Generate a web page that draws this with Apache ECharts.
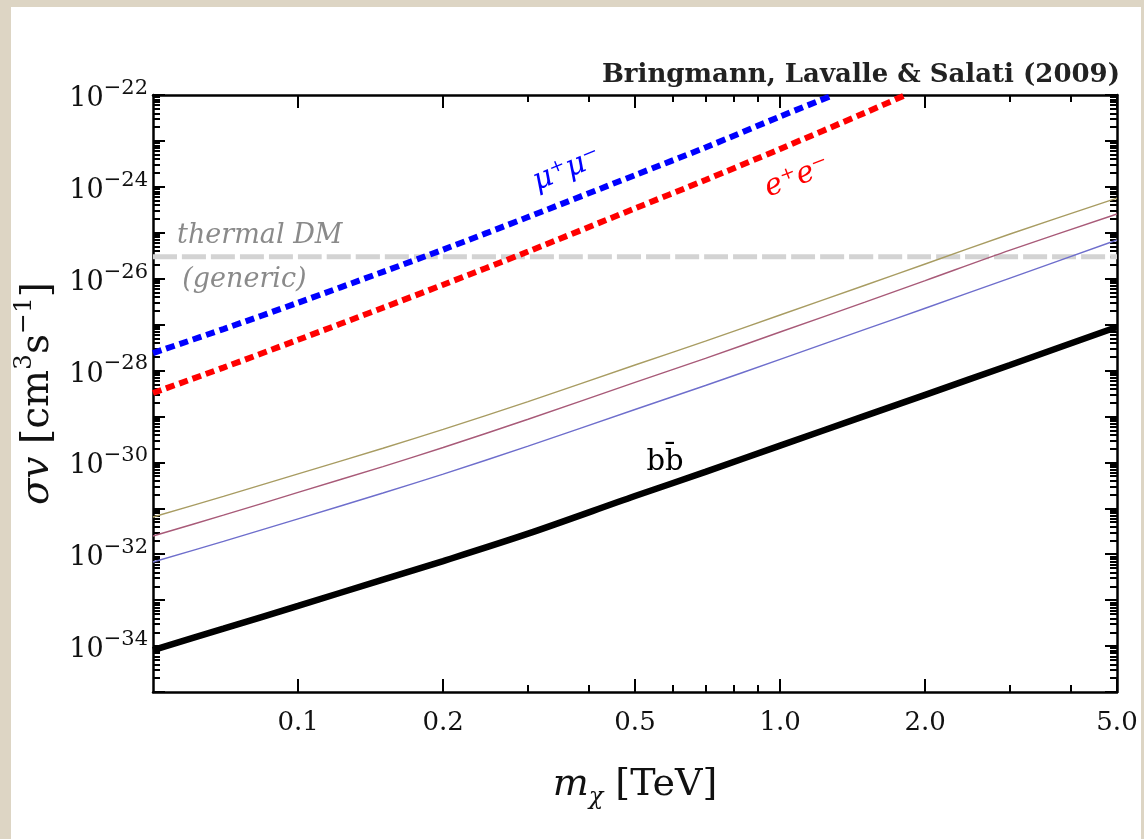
<!DOCTYPE html>
<html><head><meta charset="utf-8">
<script src="https://cdn.jsdelivr.net/npm/echarts@6/dist/echarts.min.js"></script>
<style>
html,body{margin:0;padding:0;width:1144px;height:839px;overflow:hidden;background:#ddd5c4;}
#paper{position:absolute;left:11px;top:7px;width:1130px;height:832px;background:#fff;}
#chart{position:absolute;left:0;top:0;width:1144px;height:839px;}
</style></head><body>
<div id="paper"></div><div id="chart"></div>
<script>
// ---- data ----
const massMuMu = [0.05, 0.07, 0.1, 0.15, 0.2, 0.3, 0.5, 0.7, 1.0, 1.29];
const sigmaMuMu = [2.4e-28, 8.0e-28, 3.0e-27, 1.41e-26, 4.3e-26, 2.2e-25, 1.8e-24, 7.2e-24, 3.4e-23, 1.0e-22];
const massEE = [0.05, 0.07, 0.1, 0.15, 0.2, 0.3, 0.5, 0.7, 1.0, 1.5, 1.82];
const sigmaEE = [3.24e-29, 1.16e-28, 4.67e-28, 2.33e-27, 7.4e-27, 3.9e-26, 3.4e-25, 1.41e-24, 6.7e-24, 4.1e-23, 1.0e-22];
const massGrid = [0.05, 0.07, 0.1, 0.15, 0.2, 0.3, 0.5, 0.7, 1.0, 1.5, 2.0, 3.0, 5.0];
const sigmaOlive = [6.46e-32, 1.82e-31, 5.61e-31, 2.03e-30, 5.22e-30, 2.11e-29, 1.32e-28, 4.37e-28, 1.62e-27, 7.2e-27, 2.09e-26, 9.4e-26, 5.7e-25];
const sigmaMaroon = [2.49e-32, 7.1e-32, 2.22e-31, 8.1e-31, 2.11e-30, 8.7e-30, 5.5e-29, 1.84e-28, 6.9e-28, 3.1e-27, 9.1e-27, 4.2e-26, 2.56e-25];
const sigmaBlueThin = [6.76e-33, 1.91e-32, 5.9e-32, 2.15e-31, 5.55e-31, 2.26e-30, 1.42e-29, 4.72e-29, 1.75e-28, 7.85e-28, 2.27e-27, 1.03e-26, 6.95e-26];
const sigmaBB = [8.2e-35, 2.39e-34, 7.5e-34, 2.8e-33, 7.1e-33, 2.8e-32, 1.85e-31, 6.2e-31, 2.32e-30, 1.03e-29, 2.96e-29, 1.32e-28, 8.9e-28];
const massThermal = [0.05, 5.0];
const sigmaThermal = [3e-26, 3e-26];
const xMajorTicks = [0.1, 0.2, 0.5, 1.0, 2.0, 5.0];
const xMinorTicks = [0.3, 0.4, 0.6, 0.7, 0.8, 0.9, 3.0, 4.0];
const yLabelExps = [-34, -32, -30, -28, -26, -24, -22];
const yDecadeExps = [-35, -34, -33, -32, -31, -30, -29, -28, -27, -26, -25, -24, -23, -22];
const titleText = 'Bringmann, Lavalle & Salati (2009)';

// ---- build ----
const FONT = '"DejaVu Serif", "Liberation Serif", serif';
const xMin = 0.05, xMax = 5.0, yMinExp = -35, yMaxExp = -22;
// the y axis is a linear value axis on log10(sigma v) (ECharts' log scale rounds 1e-35 to 0)
const yMinorExps = [];
yDecadeExps.slice(0, -1).forEach(e => { for (let k = 2; k <= 9; k++) yMinorExps.push(e + Math.log10(k)); });

function zipPts(xs, ys) { return xs.map((x, i) => [x, Math.log10(ys[i])]); }

const chart = echarts.init(document.getElementById('chart'), null, {renderer: 'canvas'});
const gridRect = {left: 153, right: 27, top: 95, bottom: 147};

function xAx(gridIndex, position, ticks, len, showLine, showLabel) {
  return {
    type: 'log', logBase: 10, gridIndex, position, min: xMin, max: xMax,
    axisLine: {show: showLine, onZero: false, lineStyle: {color: '#000', width: 2.5}},
    axisTick: {show: true, inside: true, length: len, customValues: ticks, lineStyle: {color: '#000', width: 2}},
    axisLabel: showLabel ? {show: true, customValues: xMajorTicks, margin: 18, color: '#111',
      fontFamily: FONT, fontSize: 26, formatter: v => Number(v).toFixed(1)} : {show: false},
    splitLine: {show: false}, minorTick: {show: false}
  };
}
function yAx(gridIndex, position, ticks, len, showLine, showLabel) {
  return {
    type: 'value', gridIndex, position, min: yMinExp, max: yMaxExp,
    axisLine: {show: showLine, onZero: false, lineStyle: {color: '#000', width: 2.5}},
    axisTick: {show: true, inside: true, length: len, customValues: ticks, lineStyle: {color: '#000', width: 2}},
    axisLabel: showLabel ? {show: true, customValues: yLabelExps, margin: 5, color: '#111',
      formatter: v => { const e = Math.round(v); return '{b|10}{e|' + (e < 0 ? '\u2212' : '') + Math.abs(e) + '}'; },
      rich: {
        b: {fontFamily: FONT, fontSize: 27, lineHeight: 34, color: '#111', padding: [8, 0, 0, 0]},
        e: {fontFamily: FONT, fontSize: 21, lineHeight: 14, verticalAlign: 'top', color: '#111'}
      }} : {show: false},
    splitLine: {show: false}, minorTick: {show: false}
  };
}

function lineSeries(name, xs, ys, color, width, type, z) {
  return {name, type: 'line', xAxisIndex: 0, yAxisIndex: 0, data: zipPts(xs, ys),
    symbol: 'none', showSymbol: false, smooth: 0.3, clip: true, z,
    lineStyle: {color, width, type, cap: 'butt'}};
}

const option = {
  animation: false,
  backgroundColor: 'transparent',
  grid: [Object.assign({}, gridRect), Object.assign({}, gridRect)],
  xAxis: [
    xAx(0, 'bottom', xMajorTicks, 13, true, true),
    xAx(0, 'top', xMajorTicks, 13, true, false),
    xAx(1, 'bottom', xMinorTicks, 7, false, false),
    xAx(1, 'top', xMinorTicks, 7, false, false)
  ],
  yAxis: [
    yAx(0, 'left', yDecadeExps, 12, true, true),
    yAx(0, 'right', yDecadeExps, 12, true, false),
    yAx(1, 'left', yMinorExps, 7, false, false),
    yAx(1, 'right', yMinorExps, 7, false, false)
  ],
  series: [
    lineSeries('thermal DM', massThermal, sigmaThermal, '#d3d3d3', 5, [24, 5], 1),
    lineSeries('thin olive', massGrid, sigmaOlive, '#a89c62', 1.4, 'solid', 2),
    lineSeries('thin maroon', massGrid, sigmaMaroon, '#a85a78', 1.4, 'solid', 2),
    lineSeries('thin blue', massGrid, sigmaBlueThin, '#6e6ecc', 1.4, 'solid', 2),
    lineSeries('b bbar', massGrid, sigmaBB, '#000000', 6.5, 'solid', 3),
    lineSeries('e+e-', massEE, sigmaEE, '#ff0000', 6, [9, 5], 4),
    lineSeries('mu+mu-', massMuMu, sigmaMuMu, '#0000ff', 6, [9, 5], 4)
  ]
};
chart.setOption(option);

function px(m, s) { return chart.convertToPixel({xAxisIndex: 0, yAxisIndex: 0}, [m, Math.log10(s)]); }
const deg = Math.PI / 180;
const pMu = px(0.361, 2.35e-24), pE = px(1.085, 1.6e-24), pB = px(0.577, 1.0e-30);
const pTh = px(0.0561, 8.5e-26), pGen = px(0.0575, 9.3e-27);
const pL = px(xMin, 1e-35), pR = px(xMax, 1e-22);
const midY = (pL[1] + pR[1]) / 2, midX = (pL[0] + pR[0]) / 2;

chart.setOption({graphic: [
  {type: 'text', x: pR[0] + 3, y: 75, style: {text: titleText, fontFamily: FONT, fontSize: 26, fontWeight: 'bold',
    fill: '#222', align: 'right', verticalAlign: 'middle'}},
  {type: 'text', x: pMu[0], y: pMu[1], rotation: 22 * deg, style: {text: 'μ⁺μ⁻', fontFamily: FONT, fontStyle: 'italic',
    fontSize: 30, fill: '#0000ff', align: 'center', verticalAlign: 'middle'}},
  {type: 'text', x: pE[0], y: pE[1], rotation: 21 * deg, style: {text: 'e⁺e⁻', fontFamily: FONT, fontStyle: 'italic',
    fontSize: 30, fill: '#ff0000', align: 'center', verticalAlign: 'middle'}},
  {type: 'text', x: pB[0], y: pB[1], style: {text: 'bb\u0304', fontFamily: FONT,
    fontSize: 29, fill: '#000', align: 'center', verticalAlign: 'middle'}},
  {type: 'text', x: pTh[0], y: pTh[1], style: {text: 'thermal DM', fontFamily: FONT, fontStyle: 'italic',
    fontSize: 27, fill: '#8a8a8a', align: 'left', verticalAlign: 'middle'}},
  {type: 'text', x: pGen[0], y: pGen[1], style: {text: '(generic)', fontFamily: FONT, fontStyle: 'italic',
    fontSize: 27, fill: '#8a8a8a', align: 'left', verticalAlign: 'middle'}},
  {type: 'text', x: midX, y: 785, style: {text: '{i|m}{s|χ}{n|\u00a0[TeV]}', align: 'center', verticalAlign: 'middle',
    rich: {
      i: {fontFamily: FONT, fontStyle: 'italic', fontSize: 38, lineHeight: 50, fill: '#111'},
      s: {fontFamily: FONT, fontStyle: 'italic', fontSize: 24, lineHeight: 25, verticalAlign: 'bottom', fill: '#111'},
      n: {fontFamily: FONT, fontSize: 38, lineHeight: 50, fill: '#111'}
    }}},
  {type: 'text', x: 38, y: midY, rotation: 90 * deg, style: {text: '{i|σv}{n|\u00a0[cm}{p|3}{n|s}{p|−1}{n|]}', align: 'center', verticalAlign: 'middle',
    rich: {
      i: {fontFamily: FONT, fontStyle: 'italic', fontSize: 39, lineHeight: 52, fill: '#111'},
      n: {fontFamily: FONT, fontSize: 39, lineHeight: 52, fill: '#111'},
      p: {fontFamily: FONT, fontSize: 25, lineHeight: 22, verticalAlign: 'top', fill: '#111'}
    }}}
]});
</script>
</body></html>
